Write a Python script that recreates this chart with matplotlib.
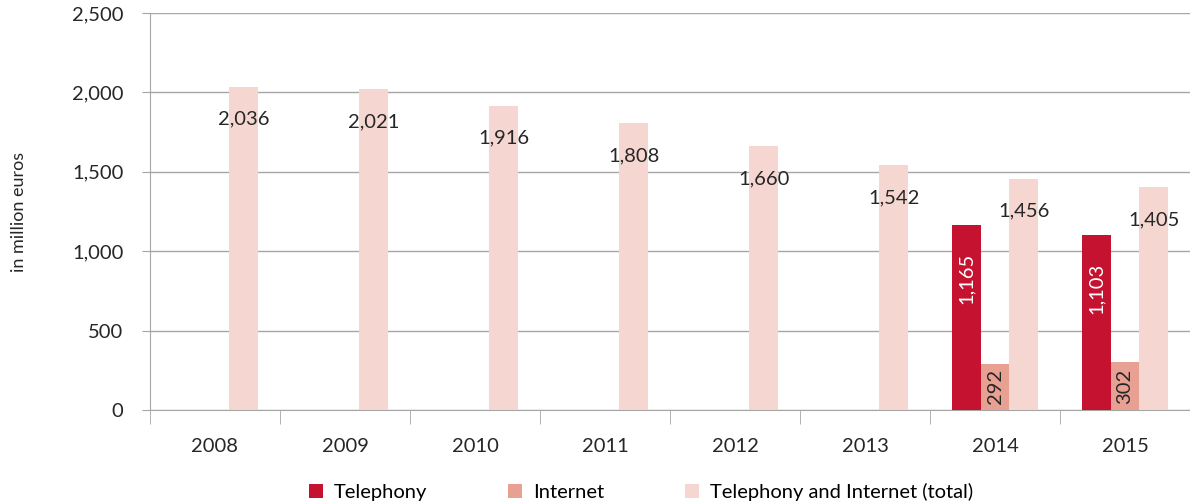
import matplotlib.pyplot as plt
import numpy as np

years = ['2008', '2009', '2010', '2011', '2012', '2013', '2014', '2015']
telefonia = [np.nan, np.nan, np.nan, np.nan, np.nan, np.nan, 1165, 1103]
internet = [np.nan, np.nan, np.nan, np.nan, np.nan, np.nan, 292, 302]
total = [2036, 2021, 1916, 1808, 1660, 1542, 1456, 1405]

c_tel = '#C41230'
c_int = '#E8A092'
c_tot = '#F5D6D0'
c_txt = '#262626'

plt.rcParams['font.family'] = ['Lato', 'DejaVu Sans']

fig = plt.figure(figsize=(11.9, 5.04), dpi=100)
ax = fig.add_axes([150 / 1190, 94 / 504, 1 - 150 / 1190, 397 / 504])

x = np.arange(len(years))
w = 0.223

b1 = ax.bar(x - w, telefonia, w, color=c_tel, label='Telephony', zorder=3)
b2 = ax.bar(x, internet, w, color=c_int, label='Internet', zorder=3)
b3 = ax.bar(x + w, total, w, color=c_tot, label='Telephony and Internet (total)', zorder=3)

def fmt(v):
    return f'{v:,.0f}'

for xi, v in zip(x, total):
    ax.text(xi + w, v - 205, fmt(v), ha='center', va='center', fontsize=14.5,
            color=c_txt, zorder=4)

for xi, v in zip(x, telefonia):
    if not np.isnan(v):
        ax.text(xi - w, v - 175, fmt(v), ha='center', va='top', rotation=90,
                fontsize=14.5, color='white', zorder=4)

for xi, v in zip(x, internet):
    if not np.isnan(v):
        ax.text(xi, v / 2, fmt(v), ha='center', va='center', rotation=90,
                fontsize=14.5, color=c_txt, zorder=4)

ax.set_xlim(-0.5, len(years) - 0.5)
ax.set_ylim(0, 2500)
ax.set_yticks(np.arange(0, 2501, 500))
ax.set_yticklabels([fmt(v) for v in np.arange(0, 2501, 500)])
ax.yaxis.grid(True, color='#A6A6A6', linewidth=1, zorder=0)
ax.set_axisbelow(True)

ax.set_xticks(x)
ax.set_xticklabels(years)
ax.set_xticks(np.arange(-0.5, len(years), 1), minor=True)
ax.tick_params(axis='x', which='major', length=0, pad=20, labelsize=14.5, colors=c_txt)
ax.tick_params(axis='x', which='minor', length=10, color='#A6A6A6')
ax.tick_params(axis='y', length=6, color='#A6A6A6', labelsize=14.5, labelcolor=c_txt, pad=13)

for s in ['top', 'right']:
    ax.spines[s].set_visible(False)
ax.spines['left'].set_color('#A6A6A6')
ax.spines['bottom'].set_color('#A6A6A6')

ax.set_ylabel('in million euros', fontsize=13, color=c_txt)
ax.yaxis.set_label_coords(-0.118, 0.5)

fig.legend(handles=[b1, b2, b3], loc='center', bbox_to_anchor=(641 / 1190, 12 / 504),
           ncol=3, frameon=False, fontsize=14.5, handlelength=0.7, handleheight=0.7,
           columnspacing=4.0, handletextpad=0.55)

fig.savefig('out.png', dpi=100)
